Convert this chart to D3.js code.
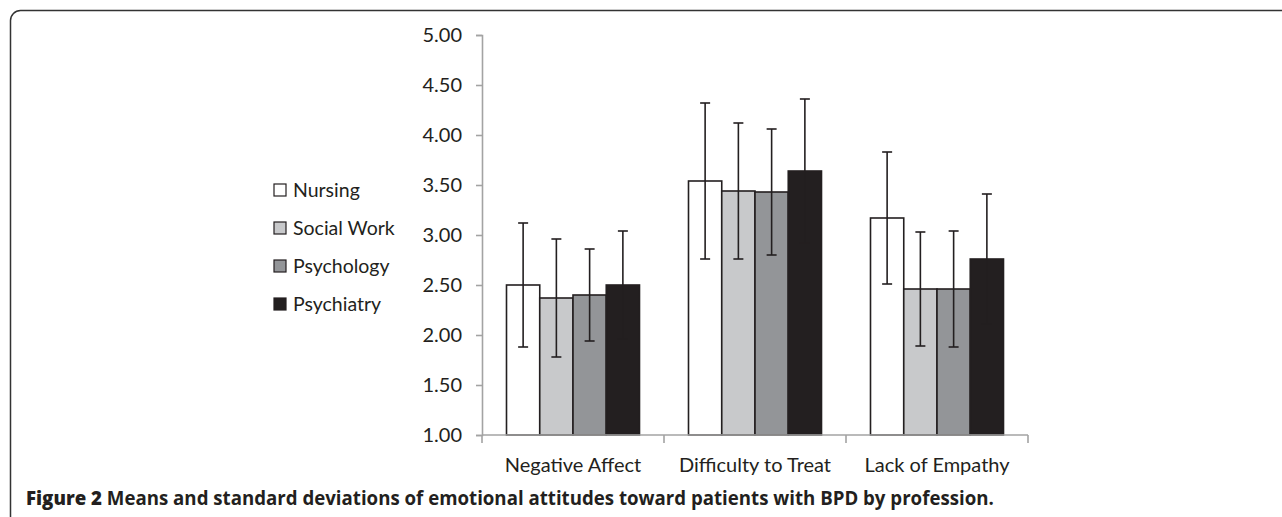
<!DOCTYPE html>
<html>
<head>
<meta charset="utf-8">
<script src="https://cdn.jsdelivr.net/npm/d3@7"></script>
<style>
  html, body { margin: 0; padding: 0; background: #fff; }
  svg { display: block; }
</style>
</head>
<body>
<svg id="chart"></svg>
<script>
// chart values
const categories = ['Negative Affect', 'Difficulty to Treat', 'Lack of Empathy'];
const professions = ['Nursing', 'Social Work', 'Psychology', 'Psychiatry'];
const nursingMeans = [2.50, 3.54, 3.17];
const socialWorkMeans = [2.37, 3.44, 2.46];
const psychologyMeans = [2.40, 3.43, 2.46];
const psychiatryMeans = [2.50, 3.64, 2.76];
const nursingSD = [0.62, 0.78, 0.66];
const socialWorkSD = [0.59, 0.68, 0.57];
const psychologySD = [0.46, 0.63, 0.58];
const psychiatrySD = [0.54, 0.72, 0.65];
const yTicks = [1, 1.5, 2, 2.5, 3, 3.5, 4, 4.5, 5];
const caption = 'Means and standard deviations of emotional attitudes toward patients with BPD by profession.';

const means = [nursingMeans, socialWorkMeans, psychologyMeans, psychiatryMeans];
const sds = [nursingSD, socialWorkSD, psychologySD, psychiatrySD];
const fills = ['#ffffff', '#c8c9cb', '#939598', '#231f20'];
const ink = '#231f20';
const axisGrey = '#a3a3a3';
const font = 'Lato, "Open Sans", sans-serif';

const width = 1282, height = 517;
const svg = d3.select('#chart').attr('width', width).attr('height', height);

// rounded frame round the figure (right side runs off the picture)
svg.append('rect')
    .attr('x', 10.5).attr('y', 10.5)
    .attr('width', 1300).attr('height', 530)
    .attr('rx', 10)
    .attr('fill', 'none')
    .attr('stroke', '#333')
    .attr('stroke-width', 1.5);

const x = d3.scaleBand().domain(categories).range([482, 1028]);
const xInner = d3.scaleBand().domain(professions).range([24.5, x.bandwidth() - 24.5]);
const y = d3.scaleLinear().domain([1, 5]).range([435, 35]);

// flatten into one record per bar
const rows = [];
categories.forEach((c, ci) => {
    professions.forEach((p, pi) => {
        rows.push({ cat: c, prof: p, mean: means[pi][ci], sd: sds[pi][ci], fill: fills[pi] });
    });
});

// bars
svg.append('g')
    .selectAll('rect')
    .data(rows)
    .join('rect')
    .attr('x', d => x(d.cat) + xInner(d.prof))
    .attr('y', d => y(d.mean))
    .attr('width', xInner.bandwidth())
    .attr('height', d => y(1) - y(d.mean))
    .attr('fill', d => d.fill)
    .attr('stroke', ink)
    .attr('stroke-width', 1.6);

// error bars
const err = svg.append('g')
    .attr('stroke', ink)
    .attr('stroke-width', 1.6)
    .selectAll('g')
    .data(rows)
    .join('g')
    .attr('transform', d => `translate(${x(d.cat) + xInner(d.prof) + xInner.bandwidth() / 2},0)`);
err.append('line')
    .attr('y1', d => y(d.mean + d.sd))
    .attr('y2', d => y(d.mean - d.sd));
err.append('line')
    .attr('x1', -5).attr('x2', 5)
    .attr('y1', d => y(d.mean + d.sd)).attr('y2', d => y(d.mean + d.sd));
err.append('line')
    .attr('x1', -5).attr('x2', 5)
    .attr('y1', d => y(d.mean - d.sd)).attr('y2', d => y(d.mean - d.sd));

// y axis
const yAxis = svg.append('g')
    .attr('transform', 'translate(482,0)')
    .call(d3.axisLeft(y).tickValues(yTicks).tickFormat(d3.format('.2f')).tickSize(6).tickPadding(14));
yAxis.select('.domain').attr('stroke', axisGrey).attr('stroke-width', 1.6);
yAxis.selectAll('.tick line').attr('stroke', axisGrey).attr('stroke-width', 1.6);
yAxis.selectAll('.tick text')
    .attr('fill', ink)
    .style('font-family', font)
    .style('font-size', '20px');

// x axis: ticks sit between the categories
const xAxisG = svg.append('g').attr('transform', `translate(0,${y(1)})`);
xAxisG.append('line')
    .attr('x1', x.range()[0]).attr('x2', x.range()[1])
    .attr('stroke', axisGrey).attr('stroke-width', 1.6);
const bounds = categories.map(c => x(c)).concat([x.range()[1]]);
xAxisG.selectAll('line.tk')
    .data(bounds)
    .join('line')
    .attr('class', 'tk')
    .attr('x1', d => d).attr('x2', d => d)
    .attr('y1', 0).attr('y2', 8)
    .attr('stroke', axisGrey).attr('stroke-width', 1.6);
xAxisG.selectAll('text')
    .data(categories)
    .join('text')
    .attr('x', d => x(d) + x.bandwidth() / 2)
    .attr('y', 37)
    .attr('text-anchor', 'middle')
    .attr('fill', ink)
    .style('font-family', font)
    .style('font-size', '20px')
    .text(d => d);

// legend
const legend = svg.append('g')
    .selectAll('g')
    .data(professions)
    .join('g')
    .attr('transform', (d, i) => `translate(274,${184 + i * 38})`);
legend.append('rect')
    .attr('width', 12).attr('height', 12)
    .attr('fill', (d, i) => fills[i])
    .attr('stroke', ink)
    .attr('stroke-width', 1.2);
legend.append('text')
    .attr('x', 19).attr('y', 13)
    .attr('fill', ink)
    .style('font-family', font)
    .style('font-size', '19.5px')
    .text(d => d);

// caption under the chart
const cap = svg.append('text')
    .attr('x', 26).attr('y', 505)
    .attr('fill', ink)
    .style('font-family', '"Open Sans", sans-serif')
    .style('font-weight', 700)
    .style('font-size', '16px');
cap.append('tspan').style('font-weight', 800).text('Figure 2 ');
cap.append('tspan').text(caption);
// fit the caption to the width it has in the figure
const len = cap.node().getComputedTextLength();
cap.style('font-size', (16 * 969 / len) + 'px');
</script>
</body>
</html>
